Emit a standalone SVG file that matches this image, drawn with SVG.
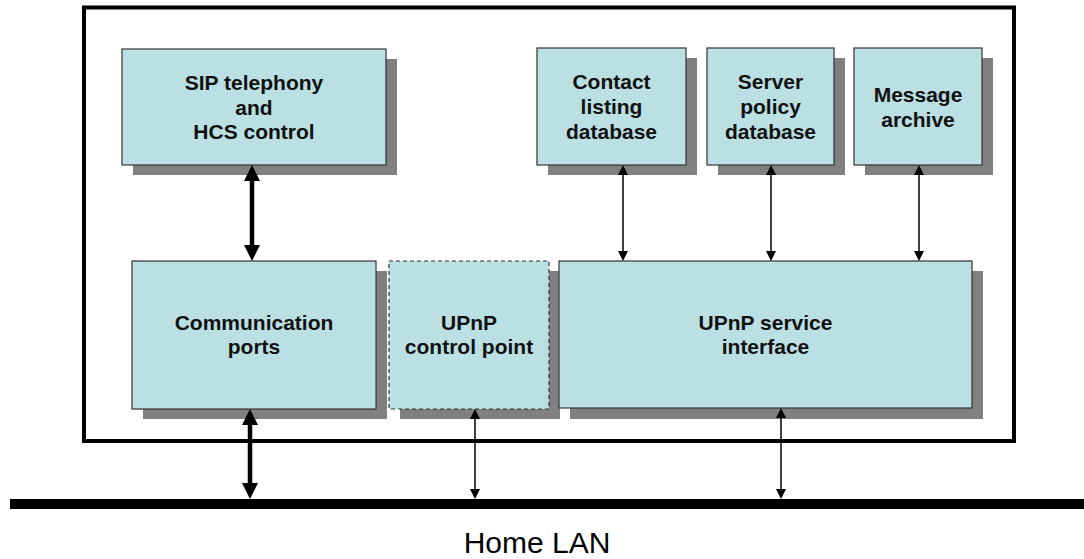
<svg xmlns="http://www.w3.org/2000/svg" width="1084" height="559" viewBox="0 0 1084 559">
  <style>
    .shadow { fill: #808080; }
    .box { fill: #BBE0E3; stroke: #333333; stroke-width: 1.2; }
    .dashed { stroke-dasharray: 4 3; }
    .label { font-family: "Liberation Sans", Arial, sans-serif; font-size: 21px; font-weight: bold; fill: #111111; text-anchor: middle; }
    .thick { stroke: #000000; stroke-width: 4.5; fill: none; }
    .thin { stroke: #000000; stroke-width: 1.5; fill: none; }
    .lan-label { font-family: "Liberation Sans", Arial, sans-serif; font-size: 30px; fill: #000000; text-anchor: middle; }
  </style>
  <defs>
    <marker id="headThick" viewBox="0 0 16 16" markerWidth="16" markerHeight="16" refX="2" refY="8" orient="auto-start-reverse" markerUnits="userSpaceOnUse">
      <path d="M0,0 L16,8 L0,16 z" fill="#000000"/>
    </marker>
    <marker id="headThin" viewBox="0 0 10 10" markerWidth="10" markerHeight="10" refX="2" refY="5" orient="auto-start-reverse" markerUnits="userSpaceOnUse">
      <path d="M0,0 L10,5 L0,10 z" fill="#000000"/>
    </marker>
  </defs>

  <rect width="1084" height="559" fill="#ffffff"/>

  <!-- home server enclosure -->
  <rect id="enclosure" x="84" y="7.5" width="930" height="433.5" fill="none" stroke="#000000" stroke-width="4"/>

  <!-- LAN bus -->
  <g id="home-lan">
    <rect x="10" y="499" width="1074" height="10" fill="#000000"/>
    <text class="lan-label" x="537" y="553">Home LAN</text>
  </g>

  <g id="sip-control">
    <rect class="shadow" x="133" y="59" width="264" height="116"/>
    <rect class="box" x="122" y="49" width="264" height="116"/>
    <text class="label" x="254" y="90">SIP telephony</text>
    <text class="label" x="254" y="115">and</text>
    <text class="label" x="254" y="139">HCS control</text>
  </g>

  <g id="contact-db">
    <rect class="shadow" x="548" y="58" width="149" height="117"/>
    <rect class="box" x="537" y="48" width="149" height="117"/>
    <text class="label" x="611.5" y="89">Contact</text>
    <text class="label" x="611.5" y="114">listing</text>
    <text class="label" x="611.5" y="139">database</text>
  </g>

  <g id="policy-db">
    <rect class="shadow" x="718" y="58" width="127" height="117"/>
    <rect class="box" x="707" y="48" width="127" height="117"/>
    <text class="label" x="770.5" y="89">Server</text>
    <text class="label" x="770.5" y="114">policy</text>
    <text class="label" x="770.5" y="139">database</text>
  </g>

  <g id="message-archive">
    <rect class="shadow" x="865" y="58" width="128" height="117"/>
    <rect class="box" x="854" y="48" width="128" height="117"/>
    <text class="label" x="918" y="102">Message</text>
    <text class="label" x="918" y="127">archive</text>
  </g>

  <g id="comm-ports">
    <rect class="shadow" x="143" y="271" width="244" height="148"/>
    <rect class="box" x="132" y="261" width="244" height="148"/>
    <text class="label" x="254" y="330">Communication</text>
    <text class="label" x="254" y="354">ports</text>
  </g>

  <g id="upnp-control-point">
    <rect class="shadow" x="400" y="271" width="160" height="148"/>
    <rect class="box dashed" x="389" y="261" width="160" height="148"/>
    <text class="label" x="469" y="330">UPnP</text>
    <text class="label" x="469" y="354">control point</text>
  </g>

  <g id="upnp-service">
    <rect class="shadow" x="570" y="271" width="413" height="148"/>
    <rect class="box" x="559" y="261" width="413" height="147"/>
    <text class="label" x="765.5" y="330">UPnP service</text>
    <text class="label" x="765.5" y="354">interface</text>
  </g>

  <!-- connectors -->
  <g id="connectors">
    <line class="thick" x1="252" y1="179" x2="252" y2="247" marker-start="url(#headThick)" marker-end="url(#headThick)"/>
    <line class="thick" x1="250" y1="423" x2="250" y2="485" marker-start="url(#headThick)" marker-end="url(#headThick)"/>
    <line class="thin" x1="623" y1="173" x2="623" y2="253" marker-start="url(#headThin)" marker-end="url(#headThin)"/>
    <line class="thin" x1="771" y1="173" x2="771" y2="253" marker-start="url(#headThin)" marker-end="url(#headThin)"/>
    <line class="thin" x1="919" y1="173" x2="919" y2="253" marker-start="url(#headThin)" marker-end="url(#headThin)"/>
    <line class="thin" x1="475" y1="417" x2="475" y2="491" marker-start="url(#headThin)" marker-end="url(#headThin)"/>
    <line class="thin" x1="781" y1="416" x2="781" y2="491" marker-start="url(#headThin)" marker-end="url(#headThin)"/>
  </g>
</svg>
